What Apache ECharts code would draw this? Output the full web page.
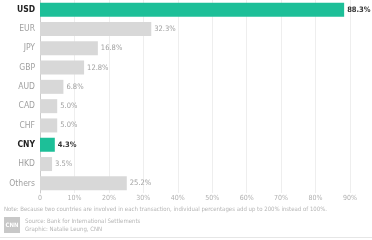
<!DOCTYPE html>
<html><head><meta charset="utf-8">
<script src="https://cdn.jsdelivr.net/npm/echarts@6/dist/echarts.min.js"></script>
<style>html,body{margin:0;padding:0;background:#fff}#c{width:372px;height:240px}</style>
</head><body><div id="c"></div>
<script>
const categories = ['USD','EUR','JPY','GBP','AUD','CAD','CHF','CNY','HKD','Others'];
const values = [88.3,32.3,16.8,12.8,6.8,5.0,5.0,4.3,3.5,25.2];
const highlighted = ['USD','CNY'];
const tickLabels = ['0','10%','20%','30%','40%','50%','60%','70%','80%','90%'];
const FONT = '"Liberation Sans Narrow","DejaVu Sans Condensed","Roboto",sans-serif';
const chart = echarts.init(document.getElementById('c'));
chart.setOption({
  animation:false,
  grid:{left:40,right:22,top:0,bottom:47},
  xAxis:{type:'value',min:0,max:90,interval:10,
    axisLine:{show:false},axisTick:{show:false},
    splitLine:{lineStyle:{color:'#eeeeee',width:1}},
    axisLabel:{color:'#b0b0b0',fontSize:7,fontFamily:FONT,margin:2,
      formatter:(v)=>tickLabels[Math.round(v/10)]}},
  yAxis:{type:'category',data:categories,inverse:true,
    axisLine:{show:true,lineStyle:{color:'#cccccc'}},axisTick:{show:false},
    axisLabel:{fontSize:8.5,fontFamily:FONT,margin:5,
      formatter:(v)=>highlighted.includes(v)?'{b|'+v+'}':'{n|'+v+'}',
      rich:{b:{fontWeight:'bold',color:'#222',fontSize:8.5,fontFamily:FONT},
            n:{color:'#a0a0a0',fontSize:8.5,fontFamily:FONT}}}},
  series:[{type:'bar',barWidth:14,
    data:values.map((v,i)=>({value:v,
      itemStyle:{color:highlighted.includes(categories[i])?'#1dbf98':'#d8d8d8'},
      label:{color:highlighted.includes(categories[i])?'#333':'#a0a0a0',
        fontWeight:highlighted.includes(categories[i])?'bold':'normal'}})),
    label:{show:true,position:'right',distance:3,fontSize:7.5,fontFamily:FONT,
      formatter:(p)=>p.value.toFixed(1)+'%'}}],
  graphic:[
    {type:'text',left:4,top:206,style:{text:'Note: Because two countries are involved in each transaction, individual percentages add up to 200% instead of 100%.',fill:'#b5b5b5',font:'6px '+FONT}},
    {type:'rect',shape:{x:4,y:217,width:16,height:16},style:{fill:'#c8c8c8'}},
    {type:'text',x:12,y:225,style:{text:'CNN',fill:'#fff',font:'bold 6px '+FONT,align:'center',verticalAlign:'middle'}},
    {type:'text',left:25,top:218,style:{text:'Source: Bank for International Settlements',fill:'#b5b5b5',font:'6px '+FONT}},
    {type:'text',left:25,top:226,style:{text:'Graphic: Natalie Leung, CNN',fill:'#b5b5b5',font:'6px '+FONT}},
    {type:'line',shape:{x1:0,y1:237.5,x2:372,y2:237.5},style:{stroke:'#e6e6e6',lineWidth:1}}
  ]
});
</script></body></html>
